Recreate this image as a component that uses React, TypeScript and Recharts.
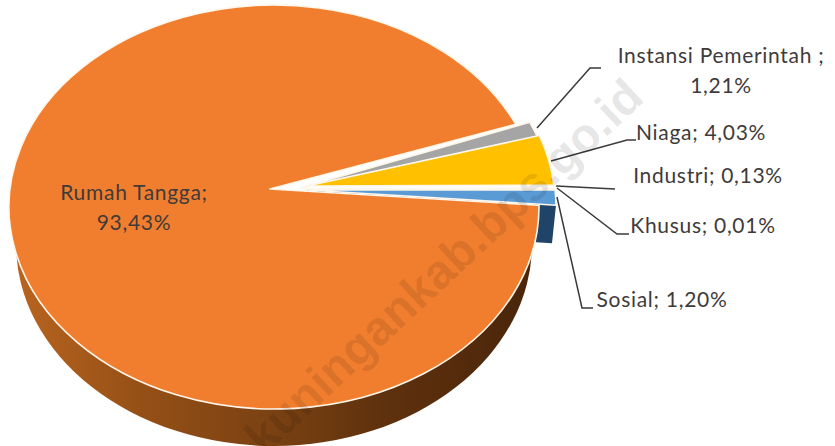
import { PieChart, Pie, Cell } from "recharts";

const categories = ["Rumah Tangga", "Instansi Pemerintah", "Niaga", "Industri", "Khusus", "Sosial"];
const shares = [93.43, 1.21, 4.03, 0.13, 0.01, 1.2];
const topColors = ["#F17E2E", "#A5A5A5", "#FFC000", "#F4F1DC", "#F4F1DC", "#5B9BD5"];
const sideColors = ["url(#wall)", "#A5A5A5", "#FFC000", "#F4F1DC", "#F4F1DC", "#1F4468"];

const data = categories.map((name, i) => ({ name, value: shares[i] }));

const W = 835;
const H = 446;
const CX = 274;
const CY = 207;
const RX = 265;
const RY = 202;
const APEX_Y = -18;
const DEPTH = 37;

// how far each slice is pulled out of the pie
const explode: Record<string, { dx: number; dy: number }> = {
  "Rumah Tangga": { dx: 0, dy: 0 },
  "Instansi Pemerintah": { dx: 14, dy: -2 },
  Niaga: { dx: 16, dy: -3 },
  Industri: { dx: 18, dy: 0 },
  Khusus: { dx: 18, dy: 0 },
  Sosial: { dx: 17, dy: 0 },
};
const apex: Record<string, { dx: number; dy: number }> = {
  "Rumah Tangga": { dx: -4, dy: 0 },
  "Instansi Pemerintah": { dx: 26, dy: -1 },
  Niaga: { dx: 33, dy: -3 },
  Industri: { dx: 30, dy: 0 },
  Khusus: { dx: 30, dy: 0 },
  Sosial: { dx: 33, dy: 1 },
};

const labelText: Record<string, string[]> = {
  "Rumah Tangga": ["Rumah Tangga;", "93,43%"],
  "Instansi Pemerintah": ["Instansi Pemerintah ;", "1,21%"],
  Niaga: ["Niaga; 4,03%"],
  Industri: ["Industri; 0,13%"],
  Khusus: ["Khusus; 0,01%"],
  Sosial: ["Sosial; 1,20%"],
};
const labelPos: Record<string, { x: number; y: number; lineGap?: number }> = {
  "Rumah Tangga": { x: 134, y: 200, lineGap: 30 },
  "Instansi Pemerintah": { x: 721, y: 63, lineGap: 30 },
  Niaga: { x: 701, y: 140 },
  Industri: { x: 708, y: 183 },
  Khusus: { x: 703, y: 233 },
  Sosial: { x: 662, y: 307 },
};
const leaders: Record<string, string> = {
  "Instansi Pemerintah": "537,128 590,68 601,68",
  Niaga: "551,161 627,140 636,140",
  Industri: "556,186 615,189",
  Khusus: "557,188 617,234 629,234",
  Sosial: "557,197 582,308 593,308",
};

function pt(angle: number, dx: number, dy = 0, rx = RX) {
  const t = (angle * Math.PI) / 180;
  return [CX + dx + rx * Math.cos(t), CY + dy - RY * Math.sin(t)];
}

function TopSlice(props: any) {
  const { name, startAngle, endAngle, fill } = props;
  const s = Math.max(startAngle, endAngle);
  const e = Math.min(startAngle, endAngle);
  const off = explode[name];
  const [x1, y1] = pt(s, off.dx, off.dy);
  const [x2, y2] = pt(e, off.dx, off.dy);
  const ax = CX + apex[name].dx;
  const ay = CY + APEX_Y + apex[name].dy;
  const large = s - e > 180 ? 1 : 0;
  return (
    <path
      d={`M${ax},${ay} L${x1},${y1} A${RX},${RY} 0 ${large} 1 ${x2},${y2} Z`}
      fill={fill}
      stroke="#FDF6EA"
      strokeWidth={1.6}
      strokeLinejoin="round"
    />
  );
}

function SideSlice(props: any) {
  const { name, startAngle, endAngle, fill } = props;
  const e = Math.min(startAngle, endAngle);
  if (name === "Rumah Tangga") {
    const rx = RX - 7;
    const [x1, y1] = pt(0, 0, DEPTH, rx);
    const [x2, y2] = pt(-180, 0, DEPTH, rx);
    return <path d={`M${x1},${y1} A${rx},${RY} 0 0 1 ${x2},${y2} Z`} fill={fill} />;
  }
  if (name === "Sosial") {
    const [x1, y1] = pt(e, explode[name].dx);
    const ax = CX + apex[name].dx;
    const ay = CY + APEX_Y + apex[name].dy;
    return (
      <polygon
        points={`${ax},${ay} ${x1},${y1} ${x1 - 4},${y1 + 38} ${ax},${ay + 38}`}
        fill={fill}
      />
    );
  }
  return <g />;
}

function SliceLabel(props: any) {
  const { name } = props;
  const lines = labelText[name];
  const pos = labelPos[name];
  const leader = leaders[name];
  return (
    <g>
      {leader ? <polyline points={leader} fill="none" stroke="#3A3A3A" strokeWidth={1.5} /> : null}
      <text
        x={pos.x}
        y={pos.y}
        textAnchor="middle"
        fontFamily="Lato, 'Open Sans', sans-serif"
        fontSize={21}
        letterSpacing={0.7}
        fill="#3F3B3A"
      >
        {lines.map((line, i) => (
          <tspan key={line} x={pos.x} dy={i === 0 ? 0 : pos.lineGap}>
            {line}
          </tspan>
        ))}
      </text>
    </g>
  );
}

export default function App() {
  return (
    <div style={{ position: "absolute", left: 0, top: 0, width: W, height: H, background: "#fff" }}>
      <PieChart width={W} height={H} margin={{ top: 0, right: 0, bottom: 0, left: 0 }}>
        <defs>
          <linearGradient id="wall" x1="0" y1="0" x2="1" y2="0">
            <stop offset="0%" stopColor="#B8641F" />
            <stop offset="25%" stopColor="#944F16" />
            <stop offset="50%" stopColor="#7A4112" />
            <stop offset="70%" stopColor="#60320E" />
            <stop offset="100%" stopColor="#4A250A" />
          </linearGradient>
        </defs>
        <Pie
          data={data}
          dataKey="value"
          nameKey="name"
          cx={CX}
          cy={CY}
          outerRadius={RX}
          startAngle={0.5}
          endAngle={-359.5}
          isAnimationActive={false}
          shape={SideSlice}
          stroke="none"
          label={false}
          labelLine={false}
        >
          {data.map((d, i) => (
            <Cell key={d.name} fill={sideColors[i]} />
          ))}
        </Pie>
        <Pie
          data={data}
          dataKey="value"
          nameKey="name"
          cx={CX}
          cy={CY}
          outerRadius={RX}
          startAngle={0.5}
          endAngle={-359.5}
          isAnimationActive={false}
          shape={TopSlice}
          label={SliceLabel}
          labelLine={false}
        >
          {data.map((d, i) => (
            <Cell key={d.name} fill={topColors[i]} />
          ))}
        </Pie>
      </PieChart>
      {/* watermark sits over the whole chart, cut by the bottom edge like the original */}
      <svg
        width={W}
        height={H}
        style={{ position: "absolute", left: 0, top: 0, pointerEvents: "none" }}
      >
        <text
          x={646}
          y={100}
          textAnchor="end"
          transform="rotate(-43 646 100)"
          fontFamily="'Liberation Sans', Arial, sans-serif"
          fontWeight={700}
          fontSize={48}
          fill="#000"
          fillOpacity={0.11}
        >
          kuningankab.bps.go.id
        </text>
      </svg>
    </div>
  );
}
